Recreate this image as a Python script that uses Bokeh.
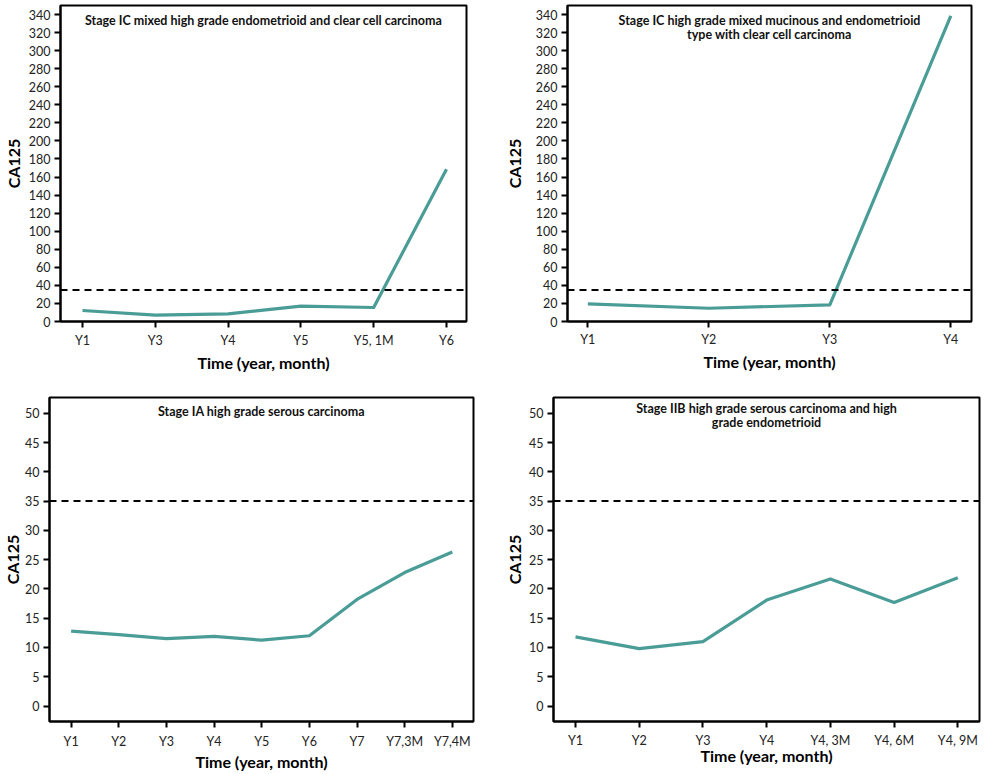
from bokeh.plotting import figure
from bokeh.layouts import row, column
from bokeh.models import Span, Label, FixedTicker, Range1d
from bokeh.embed import file_html
from bokeh.resources import INLINE

# ---------------- data ----------------
tl_cats = ["Y1", "Y3", "Y4", "Y5", "Y5, 1M", "Y6"]
tl_vals = [12.2, 7.0, 8.5, 17.0, 15.5, 168.5]
tl_title = "Stage IC mixed high grade endometrioid and clear cell carcinoma"

tr_cats = ["Y1", "Y2", "Y3", "Y4"]
tr_vals = [19.5, 14.7, 18.4, 338.5]
tr_title = "Stage IC high grade mixed mucinous and endometrioid\ntype with clear cell carcinoma"

bl_cats = ["Y1", "Y2", "Y3", "Y4", "Y5", "Y6", "Y7", "Y7,3M", "Y7,4M"]
bl_vals = [12.8, 12.2, 11.5, 11.9, 11.25, 12.0, 18.2, 22.8, 26.3]
bl_title = "Stage IA high grade serous carcinoma"

br_cats = ["Y1", "Y2", "Y3", "Y4", "Y4, 3M", "Y4, 6M", "Y4, 9M"]
br_vals = [11.8, 9.8, 11.0, 18.1, 21.7, 17.7, 21.9]
br_title = "Stage IIB high grade serous carcinoma and high\ngrade endometrioid"

threshold = 35
top_yticks = list(range(0, 341, 20))
bottom_yticks = list(range(0, 51, 5))
y_label = "CA125"
x_label = "Time (year, month)"

TEAL = "#4a9d96"
FONT = "Lato"


def make_panel(cats, vals, title, yticks, width, height, borders, xr, yr,
               ylab_standoff, ytick_standoff, xtick_standoff, xlab_standoff,
               title_offset):
    mbl, mbr, mbt, mbb = borders
    xs = list(range(len(cats)))
    p = figure(width=width, height=height,
               x_range=Range1d(*xr), y_range=Range1d(*yr),
               output_backend="svg", toolbar_location=None,
               min_border_left=mbl, min_border_right=mbr,
               min_border_top=mbt, min_border_bottom=mbb)
    p.line(xs, vals, line_color=TEAL, line_width=3.2, line_join="round")
    p.add_layout(Span(location=threshold, dimension="width", line_color="black",
                      line_width=2, line_dash="7 5"))
    p.xgrid.visible = False
    p.ygrid.visible = False
    p.outline_line_color = "black"
    p.outline_line_width = 2
    p.outline_line_alpha = 1
    p.background_fill_color = "white"
    p.border_fill_color = "white"

    p.xaxis.ticker = FixedTicker(ticks=xs)
    p.xaxis.major_label_overrides = {i: c for i, c in enumerate(cats)}
    p.yaxis.ticker = FixedTicker(ticks=yticks)

    for ax in (p.xaxis, p.yaxis):
        ax.axis_line_width = 2
        ax.axis_line_color = "black"
        ax.major_tick_line_width = 2
        ax.major_tick_line_color = "black"
        ax.major_tick_out = 6
        ax.major_tick_in = 0
        ax.minor_tick_line_color = None
        ax.major_label_text_font = FONT
        ax.major_label_text_font_size = "12.5px"
        ax.major_label_text_color = "#222222"
        ax.axis_label_text_font = FONT
        ax.axis_label_text_font_style = "bold"
        ax.axis_label_text_font_size = "16px"
        ax.axis_label_text_color = "black"
    p.yaxis.major_label_standoff = ytick_standoff
    p.xaxis.major_label_standoff = xtick_standoff
    p.yaxis.axis_label = y_label
    p.xaxis.axis_label = x_label
    p.yaxis.axis_label_standoff = ylab_standoff
    p.xaxis.axis_label_standoff = xlab_standoff

    p.add_layout(Label(x=(xr[0] + xr[1]) / 2, y=yr[1], text=title,
                       text_align="center", text_baseline="top",
                       y_offset=title_offset,
                       text_font=FONT, text_font_style="bold",
                       text_font_size="12.5px", text_line_height=0.95,
                       text_color="#111111"))
    return p


p_tl = make_panel(tl_cats, tl_vals, tl_title, top_yticks, 486, 383,
                  (60, 20, 5, 62), (-0.302, 5.275), (0, 350.0), 3, 4, 5, 2, -7)
p_tr = make_panel(tr_cats, tr_vals, tr_title, top_yticks, 489, 383,
                  (81, 4, 5, 62), (-0.168, 3.171), (0, 350.0), 9, 4, 4, 2, -7)
p_bl = make_panel(bl_cats, bl_vals, bl_title, bottom_yticks, 493, 390,
                  (47, 20, 14, 51), (-0.454, 8.445), (-2.64, 52.69), 0, 4, 6, 0, -6)
p_br = make_panel(br_cats, br_vals, br_title, bottom_yticks, 490, 390,
                  (60, 4, 14, 51), (-0.345, 6.34), (-2.64, 52.69), 2, 4, 5, -5, -3)

layout = column(row(p_tl, p_tr), row(p_bl, p_br))

open("out.html", "w").write(file_html(layout, INLINE))
